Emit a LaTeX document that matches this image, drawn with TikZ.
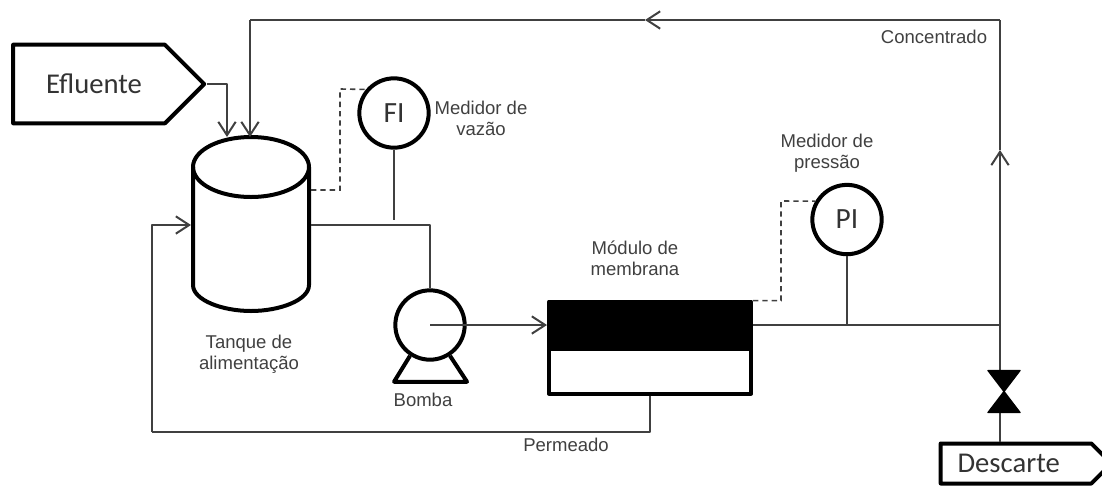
\documentclass[tikz,border=0pt]{standalone}
\usepackage{fontspec}
\setmainfont{Liberation Sans}
\newfontfamily\boxfont{Carlito}
\usepackage{tikz}
\usetikzlibrary{shapes.geometric, shapes.symbols, arrows.meta, positioning}
\tikzstyle{stream} = [signal, signal to=east, signal pointer angle=90, minimum width=143.25pt, minimum height=59pt, inner sep=0pt, draw=black, line width=3pt, line join=round, text=black!80, font=\boxfont\fontsize{21.5}{24}\selectfont]
\tikzstyle{vessel} = [draw=black, line width=3pt, line join=round]
\tikzstyle{tank} = [rectangle, minimum width=87pt, minimum height=129pt, inner sep=0pt, outer sep=1.5pt]
\tikzstyle{meter} = [circle, minimum size=52pt, inner sep=0pt, vessel, text=black!80, font=\boxfont\fontsize{22}{24}\selectfont]
\tikzstyle{tag} = [align=center, inner sep=0pt, text=black!75, font=\fontsize{13.9}{15.75}\selectfont]
\tikzstyle{pipe} = [draw=black!75, line width=1.5pt, line join=round]
\tikzstyle{flow} = [pipe, ->, >={Straight Barb[length=10pt,width=13pt]}]
\tikzstyle{signalline} = [draw=black!75, line width=1.2pt, dashed, dash pattern=on 4pt off 3pt]

\begin{document}
\begin{tikzpicture}[x=0.75pt, y=-0.75pt, node distance=75pt]
    \clip (0,0) rectangle (1102,486);
    \node (tank) [tank] at (251,225) {};
    \node (efluente) [stream, left of=tank, xshift=-46.5pt, yshift=105.75pt] {\hspace*{7.5pt}Efluente};
    \node (pump) [meter, right of=tank, xshift=59.25pt, yshift=-75pt] {};
    \node (fi) [meter, above of=pump, xshift=-27pt, yshift=84pt] {FI};
    \node (membbase) [right of=pump, xshift=90pt, yshift=-34.5pt, minimum width=151.5pt, minimum height=33.75pt, inner sep=0pt, vessel] {};
    \node (membtop) [above of=membbase, yshift=-40.5pt, minimum width=151.5pt, minimum height=35pt, inner sep=0pt, vessel, fill=black] {};
    \node (pi) [meter, right of=membtop, xshift=72.75pt, yshift=79.1pt] {PI};
    \coordinate (valve) at (1004,391.5);
    \node (descarte) [stream, below of=valve, xshift=9pt, yshift=21pt, minimum width=128pt, minimum height=30pt] {Descarte\hspace*{11pt}};

    \node (tanktag) [tag, below of=tank, xshift=-1.5pt, yshift=-22pt] {Tanque de\\alimentação};
    \node (pumptag) [tag, below of=pump, xshift=-5.25pt, yshift=18.75pt] {Bomba};
    \node (permtag) [tag, below of=membbase, xshift=-63pt, yshift=19.9pt] {Permeado};
    \node (membtag) [tag, above of=membtop, xshift=-11.25pt, yshift=-25pt] {Módulo de\\membrana};
    \node (fitag) [tag, right of=fi, xshift=-9.75pt, yshift=-3.75pt] {Medidor de\\vazão};
    \node (pitag) [tag, above of=pi, xshift=-15pt, yshift=-25.5pt] {Medidor de\\pressão};
    \node (conctag) [tag] at (934,37) {Concentrado};

    % tank body
    \draw [vessel] (251,167) ellipse [x radius=58, y radius=30];
    \draw [vessel] (193,167) -- (193,285) .. controls (193,300) and (222,311) .. (251,311) .. controls (280,311) and (309,300) .. (309,285) -- (309,167);

    \coordinate (tankin) at (227,137);
    \coordinate (tankrec) at (250,137);
    \coordinate (tanksig) at (311,190);
    \coordinate (fijoin) at (394,220);
    \coordinate (pimain) at (1000,325);
    \coordinate (riser) at (1000,150);
    \coordinate (topright) at (1000,20);
    \coordinate (topflow) at (645,20);
    \coordinate (topleft) at (250,20);
    \coordinate (valvetop) at (1000,370);
    \coordinate (valvebot) at (1000,413);
    \coordinate (permleft) at (152,432);

    \draw [flow] (efluente.east) -| (tankin);
    \draw [pipe] (topflow) -- (topleft);
    \draw [flow] (topleft) -- (tankrec);
    \draw [pipe] (riser) -- (topright);
    \draw [flow] (topright) -- (topflow);
    \draw [flow] (pimain) -- (riser);
    \draw [signalline] (tanksig) -| (340,89) -- (fi.140);
    \draw [pipe] (fi.south) -- (fijoin);
    \draw [pipe] (tank.east) -| (pump.north);
    \draw [flow] (pump.center) -- (membtop.west);
    \draw [vessel] (pump.237) -- ++(-16,26) -- ++(73,0) -- (pump.303);
    \draw [pipe] (membtop.east) -- (pimain);
    \draw [pipe] (pi.south) -- (pi.south |- pimain);
    \draw [signalline] (membtop.north east) ++(0,1) -| (781,201) -- (pi.150);
    \draw [pipe] (pimain) -- (valvetop);
    \draw [pipe] (valvebot) -- (valvebot |- descarte.north);
    \fill [vessel, line width=1pt, fill=black] (valve) ++(-16,-21) -- ++(32,0) -- ++(-32,42) -- ++(32,0) -- cycle;
    \draw [pipe] (membbase.south) |- (permleft);
    \draw [flow] (permleft) |- (tank.west);
\end{tikzpicture}
\end{document}
